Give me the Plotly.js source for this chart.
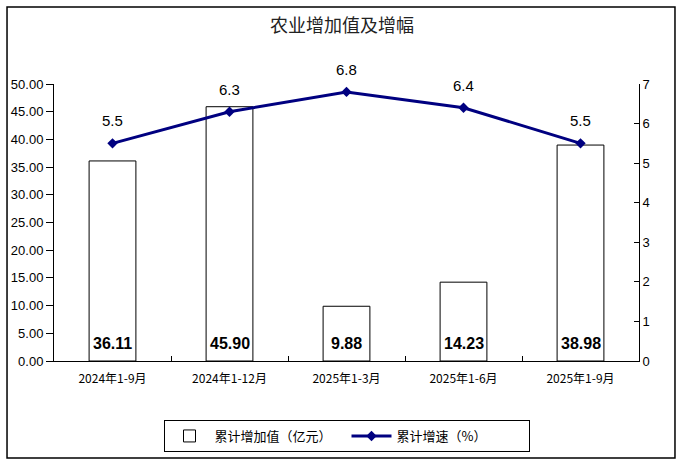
<!DOCTYPE html>
<html>
<head>
<meta charset="utf-8">
<script src="https://cdn.plot.ly/plotly-3.0.1.min.js"></script>
<style>html,body{margin:0;padding:0;background:#fff;}#chart{width:684px;height:466px;}</style>
</head>
<body>
<div id="chart"></div>
<script>
const categories = ["2024年1-9月", "2024年1-12月", "2025年1-3月", "2025年1-6月", "2025年1-9月"];
const addedValue = [36.11, 45.90, 9.88, 14.23, 38.98];
const growthRate = [5.5, 6.3, 6.8, 6.4, 5.5];
const leftTicks = [0, 5, 10, 15, 20, 25, 30, 35, 40, 45, 50];
const rightTicks = [0, 1, 2, 3, 4, 5, 6, 7];

const numFont = "Liberation Sans, Arial, sans-serif";
const cjkFont = "Noto Sans CJK SC, sans-serif";

const barTrace = {
  type: "bar",
  name: "累计增加值（亿元）",
  x: categories,
  y: addedValue,
  width: 0.4,
  marker: {color: "#ffffff", line: {color: "#000000", width: 1}},
  hoverinfo: "skip"
};

const lineTrace = {
  type: "scatter",
  mode: "lines+markers",
  name: "累计增速（%）",
  x: categories,
  y: growthRate,
  yaxis: "y2",
  line: {color: "#000080", width: 3},
  marker: {symbol: "diamond", size: 8, color: "#000080"},
  hoverinfo: "skip"
};

const annotations = [];
categories.forEach((c, i) => {
  annotations.push({
    x: c, y: 0, xref: "x", yref: "y",
    text: "<b>" + addedValue[i].toFixed(2) + "</b>",
    showarrow: false, yanchor: "bottom", yshift: 7,
    font: {family: numFont, size: 16, color: "#000"}
  });
  annotations.push({
    x: c, y: growthRate[i], xref: "x", yref: "y2",
    text: growthRate[i].toFixed(1),
    showarrow: false, yanchor: "bottom", yshift: 12,
    font: {family: numFont, size: 15, color: "#000"}
  });
});

const layout = {
  width: 684,
  height: 466,
  margin: {l: 54, r: 45, t: 84, b: 105},
  paper_bgcolor: "#ffffff",
  plot_bgcolor: "#ffffff",
  showlegend: true,
  title: {
    text: "农业增加值及增幅",
    x: 0.5, xanchor: "center",
    y: 0.945, yanchor: "middle",
    font: {family: cjkFont, size: 18, color: "#222"}
  },
  xaxis: {
    type: "category",
    showline: true, linecolor: "#000", linewidth: 1,
    ticks: "inside", tickson: "boundaries", ticklen: 5, tickcolor: "#000",
    showgrid: false, zeroline: false,
    tickfont: {family: cjkFont, size: 12, color: "#000"},
    ticklabelstandoff: 7
  },
  yaxis: {
    range: [0, 50],
    tickvals: leftTicks,
    ticktext: leftTicks.map(v => v.toFixed(2)),
    showline: true, linecolor: "#000", linewidth: 1,
    ticks: "outside", ticklen: 7, tickcolor: "#000",
    showgrid: false, zeroline: false,
    tickfont: {family: numFont, size: 13, color: "#000"}
  },
  yaxis2: {
    range: [0, 7],
    tickvals: rightTicks,
    overlaying: "y",
    side: "right",
    showline: true, linecolor: "#000", linewidth: 1,
    ticks: "inside", ticklen: 5, tickcolor: "#000",
    showgrid: false, zeroline: false,
    tickfont: {family: numFont, size: 13, color: "#000"}
  },
  legend: {
    orientation: "h",
    x: 0.5, xanchor: "center",
    y: -0.213, yanchor: "top",
    bordercolor: "#000", borderwidth: 1,
    font: {family: cjkFont, size: 13, color: "#000"},
    entrywidth: 127,
    itemwidth: 40
  },
  annotations: annotations,
  shapes: [{
    type: "rect", xref: "paper", yref: "paper",
    x0: -0.0803, x1: 1.0615, y0: -0.350, y1: 1.278,
    line: {color: "#000", width: 1.5}, fillcolor: "rgba(0,0,0,0)", layer: "below"
  }]
};

Plotly.newPlot("chart", [barTrace, lineTrace], layout, {displayModeBar: false, staticPlot: true});
</script>
</body>
</html>
